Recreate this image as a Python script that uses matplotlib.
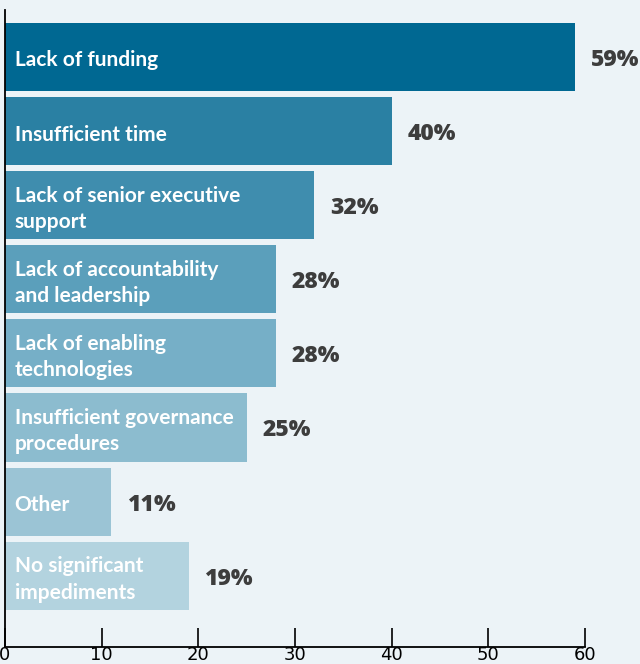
import numpy as np
import matplotlib.pyplot as plt

# Datos del gráfico
categorias = ["Lack of funding", "Insufficient time", "Lack of senior executive\nsupport",
              "Lack of accountability\nand leadership", "Lack of enabling\ntechnologies",
              "Insufficient governance\nprocedures", "Other", "No significant\nimpediments"]
valores = [59, 40, 32, 28, 28, 25, 11, 19]
colores = ["#006892", "#2a80a3", "#3f8dae", "#5b9fbb", "#76afc7", "#8cbccf", "#9bc4d5", "#b3d3df"]
ticks_x = [0, 10, 20, 30, 40, 50, 60]

fondo = "#ecf3f7"

fig = plt.figure(figsize=(6.4, 6.64), dpi=100, facecolor=fondo)
ax = fig.add_axes([5 / 640, 17 / 664, 580 / 640, 637 / 664])
ax.set_facecolor(fondo)

y = np.arange(len(categorias))
ax.barh(y, valores, height=0.92, color=colores, zorder=2)

# Etiquetas dentro de las barras y valores a la derecha
for i, (cat, val) in enumerate(zip(categorias, valores)):
    ax.text(1.0, i + 0.05, cat, color="white", fontsize=15, fontweight="bold",
            family="Lato", va="center", ha="left", linespacing=1.4, zorder=3)
    ax.text(val + 1.6, i + 0.04, f"{val}%", color="#3d3d3d", fontsize=16.5, fontweight="heavy",
            family="Open Sans", va="center", ha="left", zorder=3)

ax.set_xlim(0, 60)
ax.set_ylim(7.96, -0.63)
ax.set_xticks(ticks_x)
ax.set_xticklabels([str(t) for t in ticks_x], family="Liberation Sans Narrow", fontsize=13)
ax.set_yticks([])
ax.tick_params(axis="x", direction="in", length=13.5, width=1.2, pad=-1, colors="black")

for s in ["top", "right"]:
    ax.spines[s].set_visible(False)
for s in ["left", "bottom"]:
    ax.spines[s].set_linewidth(1.3)
    ax.spines[s].set_color("black")

fig.savefig("out.png", dpi=100, facecolor=fondo)
